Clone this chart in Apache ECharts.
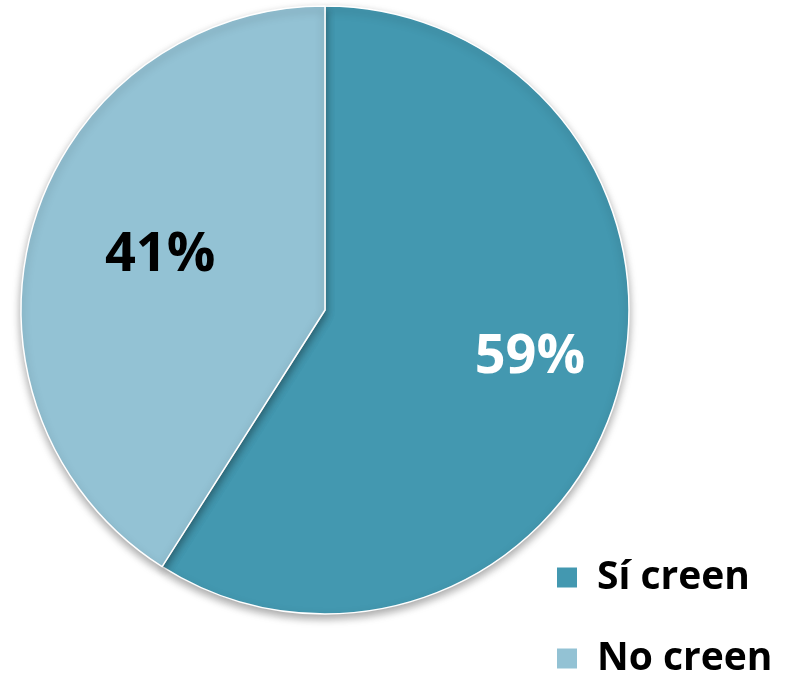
<!DOCTYPE html>
<html><head><meta charset="utf-8">
<script src="https://cdn.jsdelivr.net/npm/echarts@6/dist/echarts.min.js"></script>
<style>html,body{margin:0;padding:0;background:#fff}#c{width:790px;height:676px}</style>
</head><body><div id="c"></div>
<script>
const categories = ['Sí creen', 'No creen'];
const values = [59, 41];
const colors = ['#4398B0', '#93C2D4'];
const labelColors = ['#ffffff', '#000000'];
const labelOffsets = [[56, 4], [-16, -11]];

const chart = echarts.init(document.getElementById('c'));
chart.setOption({
  animation: false,
  legend: {
    orient: 'vertical', left: 555, top: 558, height: 300, padding: 0,
    itemWidth: 22, itemHeight: 22, itemGap: 42,
    icon: 'rect',
    textStyle: { fontFamily: 'Open Sans', fontWeight: 'bold', fontSize: 39, lineHeight: 36, color: '#000', padding: [0,0,0,14] },
    data: categories
  },
  series: [{
    type: 'pie',
    center: [325, 310], radius: 304,
    startAngle: 90, clockwise: true,
    itemStyle: { borderColor: '#fff', borderWidth: 1.5, shadowColor: 'rgba(0,0,0,0.35)', shadowBlur: 8, shadowOffsetY: 4 },
    label: { show: true, position: 'inside', formatter: '{c}%', fontFamily: 'Open Sans', fontWeight: 'bold', fontSize: 54 },
    labelLine: { show: false },
    emphasis: { disabled: true },
    data: categories.map((n, i) => ({
      name: n, value: values[i],
      itemStyle: { color: colors[i] },
      label: { color: labelColors[i], offset: labelOffsets[i] }
    }))
  }]
});
</script></body></html>
